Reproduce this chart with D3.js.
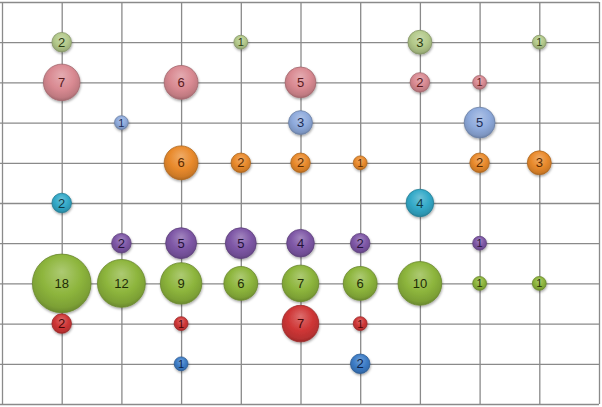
<!DOCTYPE html>
<html><head><meta charset="utf-8">
<script src="https://cdn.jsdelivr.net/npm/d3@7"></script>
<style>html,body{margin:0;padding:0;background:#fff;}svg{display:block;}</style>
</head><body>
<svg id="chart" width="602" height="407"></svg>
<script>
// Grid ticks (x columns 0..10, y rows 0..10)
const xTicks = [0,1,2,3,4,5,6,7,8,9,10];
const yTicks = [0,1,2,3,4,5,6,7,8,9,10];

// Series: each has a row (y), column positions (x) and bubble values
const seriesNames = ["lightGreen","pink","lightBlue","orange","teal","purple","green","red","blue"];
const seriesRows  = [9,8,7,6,5,4,3,2,1];
const lightGreenX = [1,4,7,9],           lightGreenV = [2,1,3,1];
const pinkX       = [1,3,5,7,8],         pinkV       = [7,6,5,2,1];
const lightBlueX  = [2,5,8],             lightBlueV  = [1,3,5];
const orangeX     = [3,4,5,6,8,9],       orangeV     = [6,2,2,1,2,3];
const tealX       = [1,7],               tealV       = [2,4];
const purpleX     = [2,3,4,5,6,8],       purpleV     = [2,5,5,4,2,1];
const greenX      = [1,2,3,4,5,6,7,8,9], greenV      = [18,12,9,6,7,6,10,1,1];
const redX        = [1,3,5,6],           redV        = [2,1,7,1];
const blueX       = [3,6],               blueV       = [1,2];

const allX = [lightGreenX,pinkX,lightBlueX,orangeX,tealX,purpleX,greenX,redX,blueX];
const allV = [lightGreenV,pinkV,lightBlueV,orangeV,tealV,purpleV,greenV,redV,blueV];

// styles
const baseColors  = ["#b3c98a","#d98a92","#8eaadc","#e98a2c","#33a9c8","#7e57a6","#8db53c","#cf3636","#3c7cc6"];
const labelColors = ["#2b3a10","#5a1a1e","#1d2c55","#5a2a00","#0d3b48","#24113a","#1f2d05","#4a0606","#0b2249"];

const svg = d3.select("#chart");
const x = d3.scaleLinear().domain([0,10]).range([2,599]);
const y = d3.scaleLinear().domain([0,10]).range([404,2]);
const r = d3.scaleSqrt().domain([0,18]).range([0,29.3]);

const defs = svg.append("defs");
const f = defs.append("filter").attr("id","shadow").attr("x","-30%").attr("y","-30%").attr("width","160%").attr("height","170%");
f.append("feDropShadow").attr("dx",0.5).attr("dy",1.5).attr("stdDeviation",1.3).attr("flood-color","#000").attr("flood-opacity",0.35);

baseColors.forEach((c,i)=>{
  const g = defs.append("radialGradient").attr("id","g"+i)
    .attr("cx","50%").attr("cy","40%").attr("r","62%").attr("fx","50%").attr("fy","30%");
  const col = d3.color(c);
  g.append("stop").attr("offset","0%").attr("stop-color", d3.interpolateRgb(c,"#fff")(0.28));
  g.append("stop").attr("offset","55%").attr("stop-color", c);
  g.append("stop").attr("offset","85%").attr("stop-color", col.darker(0.35));
  g.append("stop").attr("offset","100%").attr("stop-color", col.darker(0.9));
});

// gridlines via axes
const gx = svg.append("g").attr("transform","translate(0,404)")
  .call(d3.axisBottom(x).tickValues(xTicks).tickSize(-402).tickFormat(""));
const gy = svg.append("g").attr("transform","translate(2,0)")
  .call(d3.axisLeft(y).tickValues(yTicks).tickSize(-597).tickSizeOuter(0).tickFormat(""));
[gx,gy].forEach(g=>{
  g.select(".domain").remove();
  g.selectAll("line").attr("stroke","#8a8a8a").attr("stroke-width",1.3);
});
gy.selectAll("line").attr("x1",-2);

// bubbles
const data = [];
seriesNames.forEach((s,i)=>{
  allX[i].forEach((cx,j)=>data.push({s:i,x:cx,y:seriesRows[i],v:allV[i][j]}));
});
data.sort((a,b)=>b.v-a.v);

const nodes = svg.append("g").selectAll("g").data(data).join("g")
  .attr("transform",d=>`translate(${x(d.x)},${y(d.y)})`);
nodes.append("circle").attr("r",d=>r(d.v))
  .attr("fill",d=>`url(#g${d.s})`)
  .attr("stroke",d=>d3.color(baseColors[d.s]).darker(0.8))
  .attr("stroke-width",0.8)
  .attr("filter","url(#shadow)");
nodes.append("text").text(d=>d.v)
  .attr("text-anchor","middle").attr("dy","0.36em")
  .attr("font-family","'Liberation Sans', Arial, sans-serif")
  .attr("font-size",d=>d.v===1?11:13)
  .attr("fill",d=>labelColors[d.s]);
</script>
</body></html>
